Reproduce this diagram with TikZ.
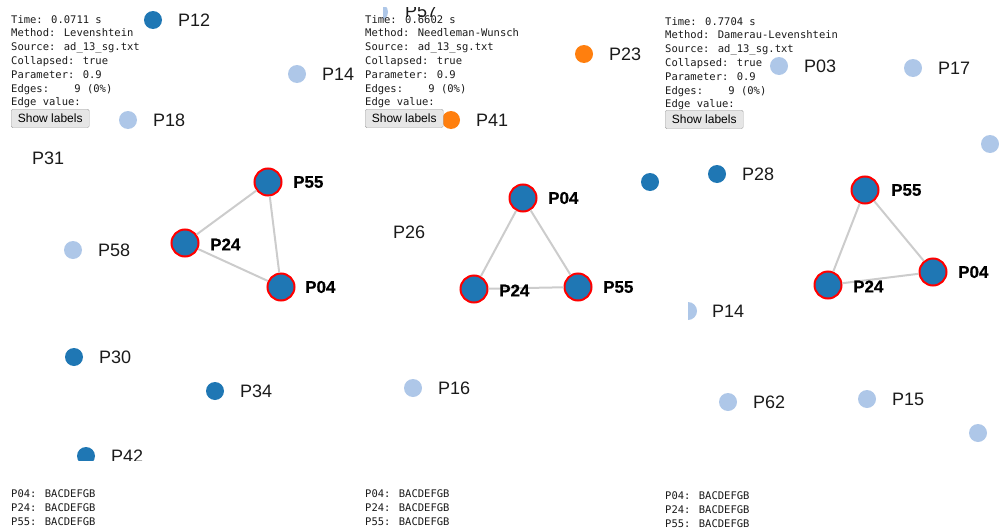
\documentclass[tikz,border=0pt]{standalone}
\usepackage{fontspec}
\setmainfont{Liberation Sans}
\newfontfamily\monofont{DejaVu Sans Mono}
\newfontfamily\heavyfont{Liberation Sans}[BoldFeatures={FakeBold=0.6}]
\definecolor{darkdot}{HTML}{1F77B4}
\definecolor{lightdot}{HTML}{AEC7E8}
\definecolor{orangedot}{HTML}{FF7F0E}
\definecolor{linkgray}{HTML}{CCCCCC}
\definecolor{btnborder}{HTML}{A6A6A6}
\definecolor{btnfill}{HTML}{E6E6E6}
\definecolor{ink}{HTML}{1A1A1A}
\tikzset{
  dot/.style={circle, inner sep=0pt, minimum size=18pt},
  dk/.style={dot, fill=darkdot},
  lt/.style={dot, fill=lightdot},
  og/.style={dot, fill=orangedot},
  hub/.style={circle, inner sep=0pt, minimum size=27pt, fill=darkdot, draw=red, line width=2pt},
  tag/.style={anchor=west, inner sep=0pt, text=ink, font=\fontsize{18}{18}\selectfont},
  hubtag/.style={anchor=west, inner sep=0pt, text=black, font=\heavyfont\bfseries\fontsize{17}{17}\selectfont},
  link/.style={draw=linkgray, line width=2pt},
  % multi-line nodes: the base anchor sits on the last line
  info/.style={anchor=base west, inner sep=0pt, align=left, text=ink, font=\monofont\fontsize{10.5}{13.8}\selectfont},
  seqs/.style={anchor=base west, inner sep=0pt, align=left, text=ink, font=\monofont\fontsize{10.5}{14}\selectfont},
  btn/.style={draw=btnborder, fill=btnfill, rounded corners=1.5pt, minimum width=78pt, minimum height=18.5pt, inner sep=0pt, anchor=north west, text=black, font=\fontsize{12}{12}\selectfont}
}
\begin{document}
\begin{tikzpicture}[x=1pt,y=-1pt]
\useasboundingbox (0,0) rectangle (999,530);
\clip (0,0) rectangle (999,530);

% ---------- first graph (Levenshtein) ----------
\begin{scope}
  \clip (0,0) rectangle (383,460);
  \node[dk] (a12) at (153,20) {};
  \node[tag] (a12t) at ([xshift=25pt]a12.center) {P12};
  \node[lt] (a14) at (297,74) {};
  \node[tag] (a14t) at ([xshift=25pt]a14.center) {P14};
  \node[lt] (a18) at (128,120) {};
  \node[tag] (a18t) at ([xshift=25pt]a18.center) {P18};
  \node[tag] (a31t) at (32,158) {P31};
  \node[lt] (a58) at (73,250) {};
  \node[tag] (a58t) at ([xshift=25pt]a58.center) {P58};
  \node[dk] (a30) at (74,357) {};
  \node[tag] (a30t) at ([xshift=25pt]a30.center) {P30};
  \node[dk] (a34) at (215,391) {};
  \node[tag] (a34t) at ([xshift=25pt]a34.center) {P34};
  \node[dk] (a42) at (86,456) {};
  \node[tag] (a42t) at ([xshift=25pt]a42.center) {P42};
  \node[hub] (a55) at (268,182) {};
  \node[hub] (a24) at (185,243) {};
  \node[hub] (a04) at (281,287) {};
  \draw[link] (a55) -- (a24);
  \draw[link] (a24) -- (a04);
  \draw[link] (a04) -- (a55);
  \node[hubtag] (a55t) at ([xshift=25pt]a55.center) {P55};
  \node[hubtag] (a24t) at ([xshift=25pt,yshift=-1.5pt]a24.center) {P24};
  \node[hubtag] (a04t) at ([xshift=24pt]a04.center) {P04};
\end{scope}

% ---------- second graph (Needleman-Wunsch) ----------
\begin{scope}
  \clip (383,7) rectangle (660,470);
  \node[lt] (b57) at (379,12) {};
  \node[tag] (b57t) at (405,11) {P57};
  \node[og] (b23) at (584,54) {};
  \node[tag] (b23t) at ([xshift=25pt]b23.center) {P23};
  \node[og] (b41) at (451,120) {};
  \node[tag] (b41t) at ([xshift=25pt]b41.center) {P41};
  \node[dk] (b77) at (650,182) {};
  \node[tag] (b26t) at (393,232) {P26};
  \node[lt] (b16) at (413,388) {};
  \node[tag] (b16t) at ([xshift=25pt]b16.center) {P16};
  \node[hub] (b04) at (523,198) {};
  \node[hub] (b24) at (474,289) {};
  \node[hub] (b55) at (578,287) {};
  \draw[link] (b04) -- (b24);
  \draw[link] (b24) -- (b55);
  \draw[link] (b55) -- (b04);
  \node[hubtag] (b04t) at ([xshift=25pt]b04.center) {P04};
  \node[hubtag] (b24t) at ([xshift=25pt,yshift=-1.5pt]b24.center) {P24};
  \node[hubtag] (b55t) at ([xshift=25pt]b55.center) {P55};
\end{scope}

% ---------- third graph (Damerau-Levenshtein) ----------
\begin{scope}
  \clip (688,0) rectangle (999,470);
  \node[lt] (c03) at (779,66) {};
  \node[tag] (c03t) at ([xshift=25pt]c03.center) {P03};
  \node[lt] (c17) at (913,68) {};
  \node[tag] (c17t) at ([xshift=25pt]c17.center) {P17};
  \node[lt] (c99) at (990,144) {};
  \node[dk] (c28) at (717,174) {};
  \node[tag] (c28t) at ([xshift=25pt]c28.center) {P28};
  \node[lt] (c14) at (688,311) {};
  \node[tag] (c14t) at ([xshift=24pt]c14.center) {P14};
  \node[lt] (c62) at (728,402) {};
  \node[tag] (c62t) at ([xshift=25pt]c62.center) {P62};
  \node[lt] (c15) at (867,399) {};
  \node[tag] (c15t) at ([xshift=25pt]c15.center) {P15};
  \node[lt] (c98) at (978,433) {};
  \node[hub] (c55) at (865,190) {};
  \node[hub] (c24) at (828,285) {};
  \node[hub] (c04) at (933,272) {};
  \draw[link] (c55) -- (c24);
  \draw[link] (c24) -- (c04);
  \draw[link] (c04) -- (c55);
  \node[hubtag] (c55t) at ([xshift=26pt]c55.center) {P55};
  \node[hubtag] (c24t) at ([xshift=25pt,yshift=-1.5pt]c24.center) {P24};
  \node[hubtag] (c04t) at ([xshift=25pt]c04.center) {P04};
\end{scope}

% ---------- run summaries ----------
\node[info] (ia) at (11,105.8) {Time: 0.0711 s\\Method: Levenshtein\\Source: ad\_13\_sg.txt\\Collapsed: true\\Parameter: 0.9\\Edges:\ \ \ \ 9 (0\%)\\Edge value:};
\node[btn] (ba) at (11,109) {Show labels};

\node[info] (ib) at (365,105.8) {Time: 0.6602 s\\Method: Needleman-Wunsch\\Source: ad\_13\_sg.txt\\Collapsed: true\\Parameter: 0.9\\Edges:\ \ \ \ 9 (0\%)\\Edge value:};
\node[btn] (bb) at (365,109) {Show labels};

\node[info] (ic) at (665,107.8) {Time: 0.7704 s\\Method: Damerau-Levenshtein\\Source: ad\_13\_sg.txt\\Collapsed: true\\Parameter: 0.9\\Edges:\ \ \ \ 9 (0\%)\\Edge value:};
\node[btn] (bc) at (665,110) {Show labels};

% ---------- cluster members ----------
\node[seqs] (sa) at (11,525) {P04: BACDEFGB\\P24: BACDEFGB\\P55: BACDEFGB};
\node[seqs] (sb) at (365,525) {P04: BACDEFGB\\P24: BACDEFGB\\P55: BACDEFGB};
\node[seqs] (sc) at (665,527) {P04: BACDEFGB\\P24: BACDEFGB\\P55: BACDEFGB};
\end{tikzpicture}
\end{document}
